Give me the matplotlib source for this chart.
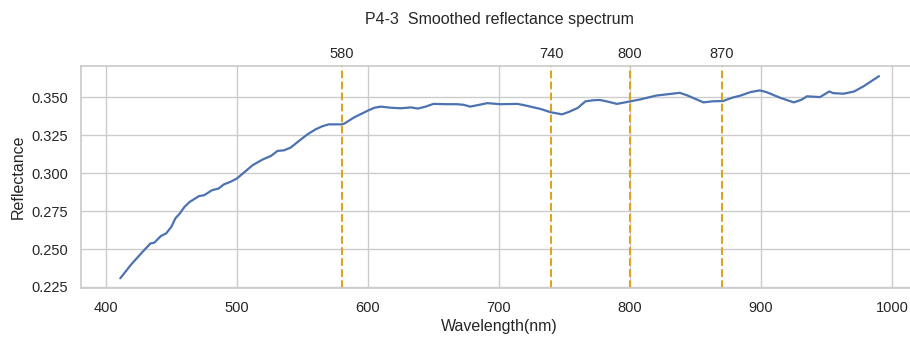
import matplotlib
matplotlib.use("Agg")
import matplotlib.pyplot as plt
import seaborn as sns

# Smoothed reflectance spectrum for sample P4-3
wavelength = [411, 419, 427, 434, 437, 442, 446, 450, 453, 456, 460, 464, 467,
              471, 475, 481, 486, 490, 495, 500, 506, 512, 520, 526, 531, 536,
              541, 549, 554, 560, 565, 570, 580, 582, 589, 600, 605, 610, 617,
              625, 633, 638, 644, 650, 660, 668, 673, 678, 685, 691, 701, 714,
              719, 724, 732, 739, 748, 753, 760, 766, 772, 777, 783, 790, 798,
              808, 820, 831, 838, 844, 856, 863, 871, 878, 884, 892, 899, 904,
              915, 925, 931, 935, 945, 952, 955, 963, 971, 978, 990]
reflectance = [0.2307, 0.2395, 0.2472, 0.2537, 0.2542, 0.2586, 0.2603, 0.2647,
               0.2702, 0.2730, 0.2778, 0.2811, 0.2827, 0.2849, 0.2855, 0.2888,
               0.2899, 0.2926, 0.2943, 0.2965, 0.3009, 0.3053, 0.3092, 0.3114,
               0.3147, 0.3151, 0.3169, 0.3224, 0.3257, 0.3289, 0.3309, 0.3322,
               0.3322, 0.3327, 0.3366, 0.3413, 0.3432, 0.3439, 0.3432, 0.3428,
               0.3434, 0.3426, 0.3439, 0.3457, 0.3455, 0.3455, 0.3451, 0.3439,
               0.3451, 0.3462, 0.3455, 0.3457, 0.3449, 0.3439, 0.3423, 0.3403,
               0.3388, 0.3403, 0.3430, 0.3474, 0.3481, 0.3483, 0.3472, 0.3457,
               0.3470, 0.3487, 0.3512, 0.3523, 0.3530, 0.3512, 0.3467, 0.3474,
               0.3476, 0.3498, 0.3511, 0.3535, 0.3546, 0.3535, 0.3496, 0.3467,
               0.3485, 0.3507, 0.3502, 0.3539, 0.3528, 0.3524, 0.3539, 0.3572,
               0.3640]

# Marker wavelengths
bands = [580, 740, 800, 870]

sns.set_theme(style="whitegrid")
plt.rcParams["font.family"] = ["Liberation Sans", "DejaVu Sans"]

fig = plt.figure(figsize=(9.1, 3.37), dpi=100)
ax = fig.add_axes([0.089, 0.1454, 0.9187, 0.6588])

ax.plot(wavelength, reflectance, color="#4C72B0", linewidth=1.6)

for b in bands:
    ax.axvline(b, color="#DAA520", linestyle="--", linewidth=1.5)
    ax.text(b, 1.022, str(b), transform=ax.get_xaxis_transform(),
            ha="center", va="bottom", fontsize=10.5, color="#262626")

ax.set_xlim(381, 1019)
ax.set_ylim(0.2243, 0.3707)
ax.set_xticks([400, 500, 600, 700, 800, 900, 1000])
ax.set_yticks([0.225, 0.250, 0.275, 0.300, 0.325, 0.350])
ax.set_yticklabels(["%.3f" % v for v in ax.get_yticks()])
ax.tick_params(labelsize=10.5)

ax.set_xlabel("Wavelength(nm)", fontsize=11.5, labelpad=3)
ax.set_ylabel("Reflectance", fontsize=11.5)
ax.set_title("P4-3  Smoothed reflectance spectrum", fontsize=11.5, pad=30)

fig.savefig("out.png", dpi=100)
